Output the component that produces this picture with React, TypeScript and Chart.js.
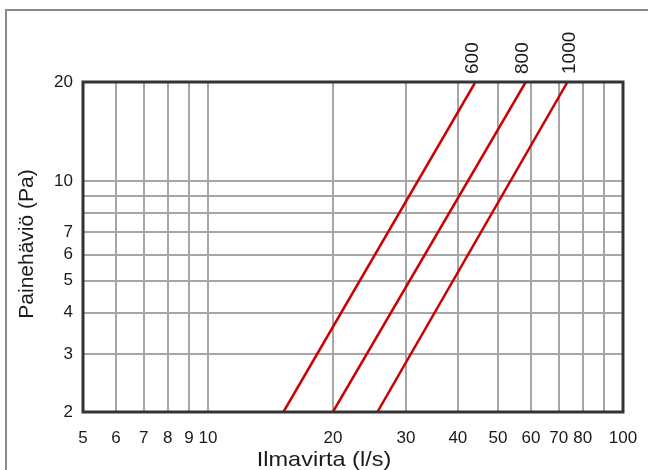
import React, { useEffect, useRef } from "react";
import { Chart, registerables } from "chart.js";

Chart.register(...registerables);

// ---- data ----
const xTicks = [5, 6, 7, 8, 9, 10, 20, 30, 40, 50, 60, 70, 80, 90, 100];
const xLabeled = [5, 6, 7, 8, 9, 10, 20, 30, 40, 50, 60, 70, 80, 100];
const yTicks = [2, 3, 4, 5, 6, 7, 8, 9, 10, 20];
const yLabeled = [2, 3, 4, 5, 6, 7, 10, 20];

const seriesNames = ["600", "800", "1000"];
const pressure = [2, 20];
const flow600 = [15.2, 44.1];
const flow800 = [20.0, 58.3];
const flow1000 = [25.6, 73.5];
const labelFlow = [43.5, 57.5, 74.4];

const xTitle = "Ilmavirta (l/s)";
const yTitle = "Painehäviö (Pa)";

const FONT = '"Liberation Sans", Arial, Helvetica, sans-serif';
const TEXT = "#1a1a1a";

const decor = {
  id: "decor",
  afterDatasetsDraw(chart: any) {
    const { ctx, chartArea: a, scales } = chart;
    ctx.save();
    ctx.strokeStyle = "#333333";
    ctx.lineWidth = 3;
    ctx.strokeRect(a.left, a.top, a.right - a.left, a.bottom - a.top);

    ctx.fillStyle = TEXT;
    ctx.font = `19px ${FONT}`;
    seriesNames.forEach((n, i) => {
      const px = scales.x.getPixelForValue(labelFlow[i]);
      ctx.save();
      ctx.translate(px, a.top - 8);
      ctx.rotate(-Math.PI / 2);
      ctx.textAlign = "left";
      ctx.textBaseline = "middle";
      ctx.fillText(n, 0, 0);
      ctx.restore();
    });
    ctx.restore();
  },
  afterDraw(chart: any) {
    const { ctx } = chart;
    ctx.save();
    // outer frame
    ctx.strokeStyle = "#8c8c8c";
    ctx.lineWidth = 2;
    ctx.strokeRect(6, 10, 700, 500);

    ctx.fillStyle = TEXT;
    ctx.font = `21px ${FONT}`;
    // x title
    ctx.save();
    ctx.translate(324, 466);
    ctx.scale(1.12, 1);
    ctx.textAlign = "center";
    ctx.textBaseline = "alphabetic";
    ctx.fillText(xTitle, 0, 0);
    ctx.restore();
    // y title
    ctx.save();
    ctx.translate(33, 244);
    ctx.rotate(-Math.PI / 2);
    ctx.textAlign = "center";
    ctx.textBaseline = "alphabetic";
    ctx.fillText(yTitle, 0, 0);
    ctx.restore();
    ctx.restore();
  },
};

export default function App() {
  const ref = useRef<HTMLCanvasElement>(null);
  useEffect(() => {
    const flows = [flow600, flow800, flow1000];
    const chart = new Chart(ref.current as HTMLCanvasElement, {
      type: "scatter",
      data: {
        datasets: flows.map((f, i) => ({
          label: seriesNames[i],
          data: f.map((x, j) => ({ x, y: pressure[j] })),
          showLine: true,
          borderColor: "#cc0000",
          backgroundColor: "#cc0000",
          borderWidth: 2.5,
          pointRadius: 0,
          tension: 0,
        })),
      },
      options: {
        responsive: false,
        animation: false,
        devicePixelRatio: 1,
        layout: { padding: { top: 82, right: 25, left: 0, bottom: 0 } },
        plugins: { legend: { display: false }, tooltip: { enabled: false } },
        scales: {
          x: {
            type: "logarithmic",
            min: 5,
            max: 100,
            afterBuildTicks: (s: any) => {
              s.ticks = xTicks.map((v) => ({ value: v }));
            },
            afterFit: (s: any) => {
              s.height = 58;
              s.paddingLeft = 0;
              s.paddingRight = 0;
            },
            grid: { color: "#a6a6a6", lineWidth: 2, drawTicks: false },
            border: { display: false },
            ticks: {
              autoSkip: false,
              maxRotation: 0,
              minRotation: 0,
              padding: 16,
              color: TEXT,
              font: { family: FONT, size: 17 },
              callback: (v: any) => (xLabeled.includes(Number(v)) ? String(v) : ""),
            },
          },
          y: {
            type: "logarithmic",
            min: 2,
            max: 20,
            afterBuildTicks: (s: any) => {
              s.ticks = yTicks.map((v) => ({ value: v }));
            },
            afterFit: (s: any) => {
              s.width = 83;
              s.paddingTop = 0;
              s.paddingBottom = 0;
            },
            grid: { color: "#a6a6a6", lineWidth: 2, drawTicks: false },
            border: { display: false },
            ticks: {
              autoSkip: false,
              padding: 10,
              color: TEXT,
              font: { family: FONT, size: 17 },
              callback: (v: any) => (yLabeled.includes(Number(v)) ? String(v) : ""),
            },
          },
        },
      },
      plugins: [decor],
    } as any);
    return () => chart.destroy();
  }, []);

  return (
    <div style={{ position: "absolute", left: 0, top: 0, width: 648, height: 470, background: "#fff" }}>
      <canvas ref={ref} width={648} height={470} style={{ display: "block", width: 648, height: 470 }} />
    </div>
  );
}
